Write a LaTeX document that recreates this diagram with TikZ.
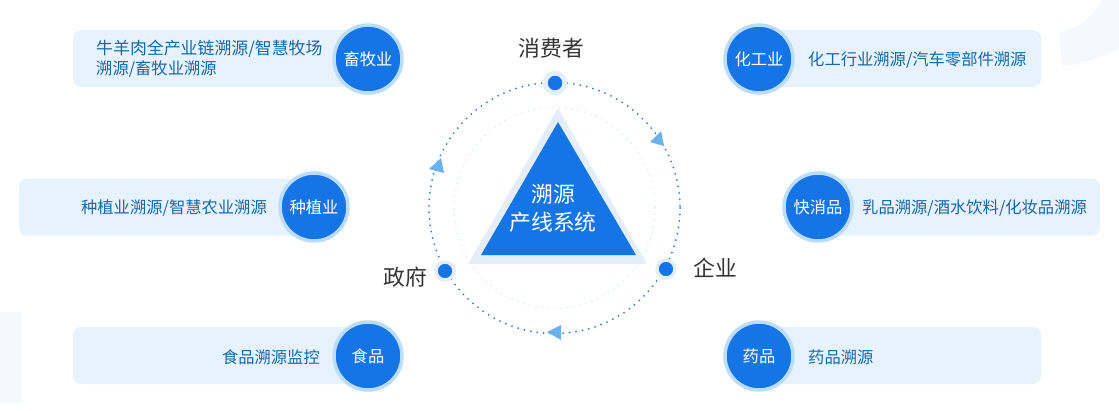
\documentclass[tikz,border=0pt]{standalone}
\usepackage{fontspec}
\setmainfont{Noto Sans CJK SC}
\definecolor{mainblue}{HTML}{1675E6}
\definecolor{pillblue}{HTML}{E6F3FE}
\definecolor{ringblue}{HTML}{BBDDFB}
\definecolor{haloblue}{HTML}{E3EEF9}
\definecolor{tipblue}{HTML}{6CB2EA}
\definecolor{dotblue}{HTML}{2F7DBE}
\definecolor{softdot}{HTML}{DCEAF6}
\definecolor{pilltext}{HTML}{1767A8}
\definecolor{bgpale}{HTML}{F5F9FD}
\definecolor{labelgray}{HTML}{333333}
\tikzset{
  pill/.style={fill=pillblue, rounded corners=8pt, minimum height=57pt, inner sep=0pt},
  badge/.style={circle, fill=mainblue, draw=ringblue, line width=3.5pt, minimum size=68pt, inner sep=0pt, text=white, font=\fontsize{16.3}{16}\selectfont},
  pilllabel/.style={text=pilltext, inner sep=0pt, font=\fontsize{16.3}{20}\selectfont, align=left},
  actor/.style={circle, fill=mainblue, draw=haloblue, line width=3.5pt, minimum size=18pt, inner sep=0pt},
  actorlabel/.style={text=labelgray, inner sep=0pt, font=\fontsize{21.8}{22}\selectfont},
  flowtip/.style={fill=tipblue},
  centerlabel/.style={text=white, inner sep=0pt, font=\fontsize{21.8}{28}\selectfont, align=center}
}
\begin{document}
\begin{tikzpicture}[x=1pt,y=-1pt]
    \useasboundingbox (0,0) rectangle (1119,410);

    % Hintergrund
    \fill[bgpale] (0,312) rectangle (22,403);
    \fill[bgpale] (1102,0) .. controls (1092,17) and (1078,28) .. (1058,33)
        -- (1063,66) .. controls (1085,64) and (1103,57) .. (1119,49) -- (1119,0) -- cycle;

    % Ringe
    \coordinate (M) at (554.5,208);
    \draw[softdot, line width=1.8pt, line cap=round, dash pattern=on 0pt off 6.3pt] (M) circle (100.5);
    \draw[dotblue, line width=2pt, line cap=round, dash pattern=on 0pt off 6.5pt] (M) circle (125.5);

    % Dreieck
    \coordinate (T1) at (558,108);
    \coordinate (T2) at (647,264);
    \coordinate (T3) at (468,264);
    \coordinate (S1) at (558,122);
    \coordinate (S2) at (636,255);
    \coordinate (S3) at (481,255);
    \fill[haloblue] (T1) -- (T2) -- (T3) -- cycle;
    \fill[mainblue] (S1) -- (S2) -- (S3) -- cycle;
    \node[centerlabel] (core) at (553,208) {溯源\\产线系统};

    % Pfeilspitzen
    \fill[flowtip] (650,142) -- (661,131) -- (664,146) -- cycle;
    \fill[flowtip] (429,169) -- (441,158) -- (444,173) -- cycle;
    \fill[flowtip] (547,332) -- (561,325) -- (561,340) -- cycle;

    % Akteure
    \node[actor, line width=5pt, minimum size=19.8pt] (consumer) at (555,83) {};
    \node[actor] (firm) at (666,269) {};
    \node[actor] (gov) at (445,271) {};
    \node[actorlabel] at (551.5,48) {消费者};
    \node[actorlabel] at (715,268) {企业};
    \node[actorlabel] at (405,277) {政府};

    % linke Seite
    \node[pill, minimum width=295pt] (pillA) at (220.5,58.5) {};
    \node[badge] (husbandry) at (368,59) {畜牧业};
    \node[pilllabel, anchor=west] at (96,59) {{\fontsize{16.9}{20}\selectfont 牛羊肉全产业链溯源/智慧牧场}\\溯源/畜牧业溯源};

    \node[pill, minimum width=295pt] (pillB) at (166.5,207) {};
    \node[badge] (planting) at (314,207) {种植业};
    \node[pilllabel, anchor=east] at (267,208) {种植业溯源/智慧农业溯源};

    \node[pill, minimum width=295pt] (pillC) at (220.5,355.5) {};
    \node[badge] (food) at (368,356) {食品};
    \node[pilllabel, anchor=east] at (320,357) {食品溯源监控};

    % rechte Seite
    \node[pill, minimum width=282pt] (pillD) at (900,58.5) {};
    \node[badge] (chemical) at (759,59) {化工业};
    \node[pilllabel, anchor=west] at (808,60) {化工行业溯源/汽车零部件溯源};

    \node[pill, minimum width=282pt] (pillE) at (959,207) {};
    \node[badge] (fmcg) at (818,207) {快消品};
    \node[pilllabel, anchor=west] at (862,208) {乳品溯源/酒水饮料/化妆品溯源};

    \node[pill, minimum width=282pt] (pillF) at (900,355.5) {};
    \node[badge] (drug) at (759,356) {药品};
    \node[pilllabel, anchor=west] at (808,357) {药品溯源};
\end{tikzpicture}
\end{document}
